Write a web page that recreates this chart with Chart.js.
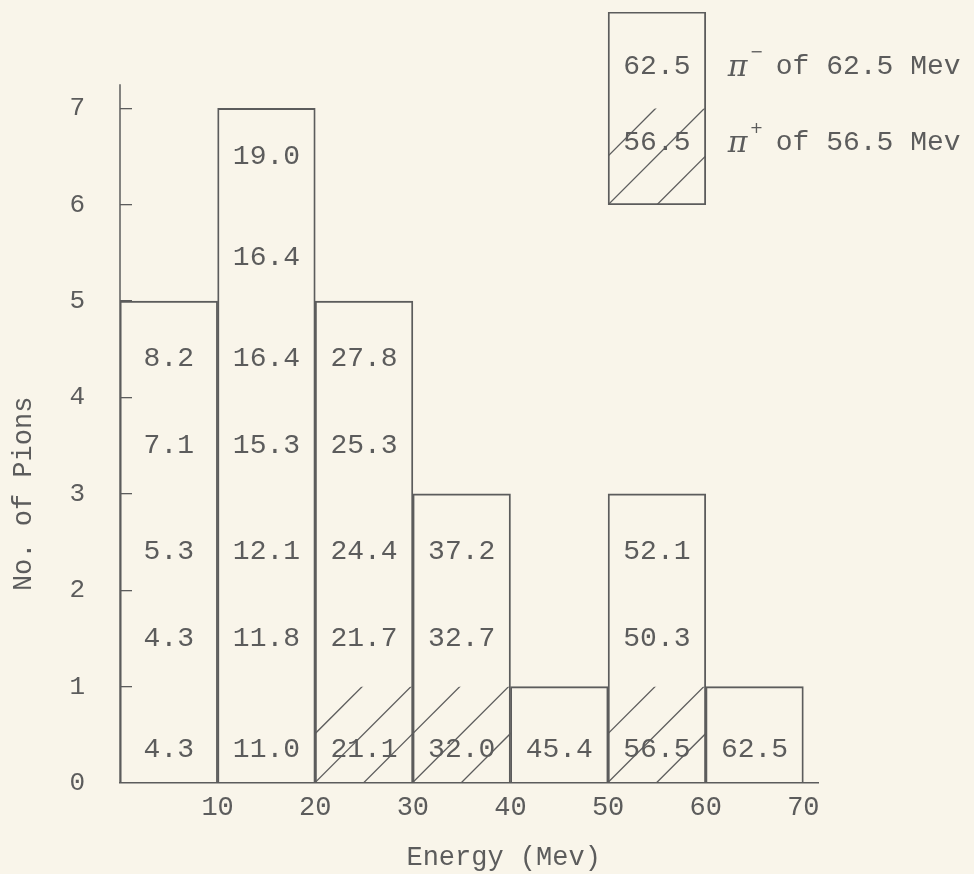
<!DOCTYPE html>
<html>
<head>
<meta charset="utf-8">
<title>No. of Pions vs Energy</title>
<script src="https://cdn.jsdelivr.net/npm/chart.js@4.4.1/dist/chart.umd.min.js"></script>
<style>
  html, body { margin: 0; padding: 0; background: #f9f5ea; }
  #wrap { width: 974px; height: 874px; }
</style>
</head>
<body>
<div id="wrap"><canvas id="graficoPiones" width="974" height="874"></canvas></div>
<script>
// bins of 10 Mev, left edge of each one
const binStarts = [0, 10, 20, 30, 40, 50, 60];
const binWidth = 10;
const pionCounts = [5, 7, 5, 3, 1, 3, 1];

// energies typed in every bin, from the bottom pion up
const pionEnergies = [
  ['4.3', '4.3', '5.3', '7.1', '8.2'],
  ['11.0', '11.8', '12.1', '15.3', '16.4', '16.4', '19.0'],
  ['21.1', '21.7', '24.4', '25.3', '27.8'],
  ['32.0', '32.7', '37.2'],
  ['45.4'],
  ['56.5', '50.3', '52.1'],
  ['62.5'],
];
// bins whose bottom pion is a pi+ (hatched cell)
const piPlusBins = [20, 30, 50];
// height of each typed line (the typist's rows)
const rowLevels = [0.35, 1.5, 2.4, 3.5, 4.4, 5.45, 6.5];

const xTickValues = [10, 20, 30, 40, 50, 60, 70];
const yTickValues = [0, 1, 2, 3, 4, 5, 6, 7];

// key box in the corner
const legendSigns = ['\u2212', '+'];
const legendEnergies = ['62.5', '56.5'];
const legendRows = [7.43, 6.64];

const binCenters = binStarts.map(b => b + binWidth / 2);
const INK = '#5c5c5c';
const MONO = '"Liberation Mono", "DejaVu Sans Mono", monospace';

// diagonal hatching for pi+ cells, drawn from each bar's own box
const hatchPlugin = {
  id: 'hatch',
  afterDatasetsDraw(chart) {
    const ctx = chart.ctx;
    chart.data.datasets.forEach((ds, di) => {
      if (!ds.hatch) return;
      chart.getDatasetMeta(di).data.forEach(el => {
        const p = el.getProps(['x', 'y', 'base', 'width'], true);
        const left = p.x - p.width / 2;
        const top = Math.min(p.y, p.base);
        const bottom = Math.max(p.y, p.base);
        const h = bottom - top;
        const step = p.width / 2;
        ctx.save();
        ctx.beginPath();
        ctx.rect(left, top, p.width, h);
        ctx.clip();
        ctx.strokeStyle = INK;
        ctx.lineWidth = 1.3;
        for (let k = -1; k <= 1; k++) {
          const x0 = left + k * step;
          ctx.beginPath();
          ctx.moveTo(x0 - 300, bottom + 300);
          ctx.lineTo(x0 + 300, bottom - 300);
          ctx.stroke();
        }
        ctx.restore();
      });
    });
  },
};

// typed energies, key texts, axis titles, short y axis line
const textPlugin = {
  id: 'typedText',
  afterDraw(chart) {
    const ctx = chart.ctx;
    const xs = chart.scales.x;
    const ys = chart.scales.y;
    ctx.save();
    ctx.fillStyle = INK;
    ctx.textAlign = 'center';
    ctx.textBaseline = 'middle';
    ctx.font = '28px ' + MONO;
    pionEnergies.forEach((list, i) => {
      list.forEach((txt, r) => {
        ctx.fillText(txt, xs.getPixelForValue(binCenters[i]), ys.getPixelForValue(rowLevels[r]));
      });
    });

    // key
    const keyX = xs.getPixelForValue(55);
    const keyRight = xs.getPixelForValue(60);
    legendEnergies.forEach((e, i) => {
      const yy = ys.getPixelForValue(legendRows[i]);
      ctx.textAlign = 'center';
      ctx.font = '28px ' + MONO;
      ctx.fillText(e, keyX, yy);
      ctx.textAlign = 'left';
      ctx.font = 'italic 30px "DejaVu Serif", serif';
      ctx.fillText('\u03c0', keyRight + 22, yy + 1);
      ctx.font = '16px "DejaVu Sans", sans-serif';
      ctx.fillText(legendSigns[i], keyRight + 44, yy - 14);
      ctx.font = '28px ' + MONO;
      ctx.fillText('of ' + e + ' Mev', keyRight + 70, yy);
    });

    // axis titles
    ctx.textAlign = 'center';
    ctx.font = '27px ' + MONO;
    ctx.fillText('Energy (Mev)', xs.getPixelForValue(39.3), ys.getPixelForValue(0) + 75);
    ctx.translate(24, ys.getPixelForValue(3));
    ctx.rotate(-Math.PI / 2);
    ctx.fillText('No. of Pions', 0, 0);
    ctx.restore();

    // y axis line stops a little above 7
    ctx.save();
    ctx.strokeStyle = INK;
    ctx.lineWidth = 1.5;
    ctx.beginPath();
    ctx.moveTo(xs.left, ys.getPixelForValue(0));
    ctx.lineTo(xs.left, ys.getPixelForValue(7.25));
    ctx.stroke();
    ctx.restore();
  },
};

const lineas = { backgroundColor: 'rgba(0,0,0,0)', borderColor: INK, borderWidth: 1.2 };

new Chart(document.getElementById('graficoPiones'), {
  type: 'bar',
  data: {
    datasets: [
      {
        label: 'No. of Pions',
        data: binCenters.map((c, i) => ({ x: c, y: pionCounts[i] })),
        ...lineas,
        borderSkipped: 'start',
      },
      {
        label: 'pi+',
        data: piPlusBins.map(b => ({ x: b + binWidth / 2, y: [0, 1] })),
        backgroundColor: 'rgba(0,0,0,0)',
        borderWidth: 0,
        hatch: true,
      },
      {
        label: 'key',
        data: [{ x: 55, y: [6, 8] }],
        ...lineas,
        borderSkipped: false,
      },
      {
        label: 'key pi+',
        data: [{ x: 55, y: [6, 7] }],
        backgroundColor: 'rgba(0,0,0,0)',
        borderWidth: 0,
        hatch: true,
      },
    ],
  },
  options: {
    responsive: false,
    animation: false,
    events: [],
    grouped: false,
    barPercentage: 1,
    categoryPercentage: 1,
    layout: { padding: { top: 12, right: 156, left: 0, bottom: 0 } },
    plugins: { legend: { display: false }, tooltip: { enabled: false } },
    scales: {
      x: {
        type: 'linear',
        min: 0,
        max: 71.5,
        offset: false,
        grid: { display: false, drawTicks: false },
        border: { display: true, color: INK, width: 1.5 },
        afterBuildTicks: scale => { scale.ticks = [0, ...xTickValues].map(v => ({ value: v })); },
        ticks: {
          includeBounds: false,
          autoSkip: false,
          maxRotation: 0,
          padding: 9,
          color: INK,
          font: { family: MONO, size: 27 },
          callback: v => (xTickValues.includes(v) ? String(v) : ''),
        },
        afterFit: scale => { scale.height = 91; },
      },
      y: {
        min: 0,
        max: 8,
        grid: {
          display: true,
          drawOnChartArea: false,
          drawTicks: true,
          tickLength: -12,
          lineWidth: 1.3,
          color: c => (c.tick && c.tick.value > 0 && c.tick.value <= 7 ? INK : 'rgba(0,0,0,0)'),
        },
        border: { display: false },
        afterBuildTicks: scale => { scale.ticks = [...yTickValues, 8].map(v => ({ value: v })); },
        ticks: {
          padding: 47,
          color: INK,
          font: { family: MONO, size: 26 },
          callback: v => (yTickValues.includes(v) ? String(v) : ''),
        },
        afterFit: scale => {
          scale.width = 120;
          scale.paddingTop = 0;
          scale.paddingBottom = 0;
        },
      },
    },
  },
  plugins: [hatchPlugin, textPlugin],
});
</script>
</body>
</html>
